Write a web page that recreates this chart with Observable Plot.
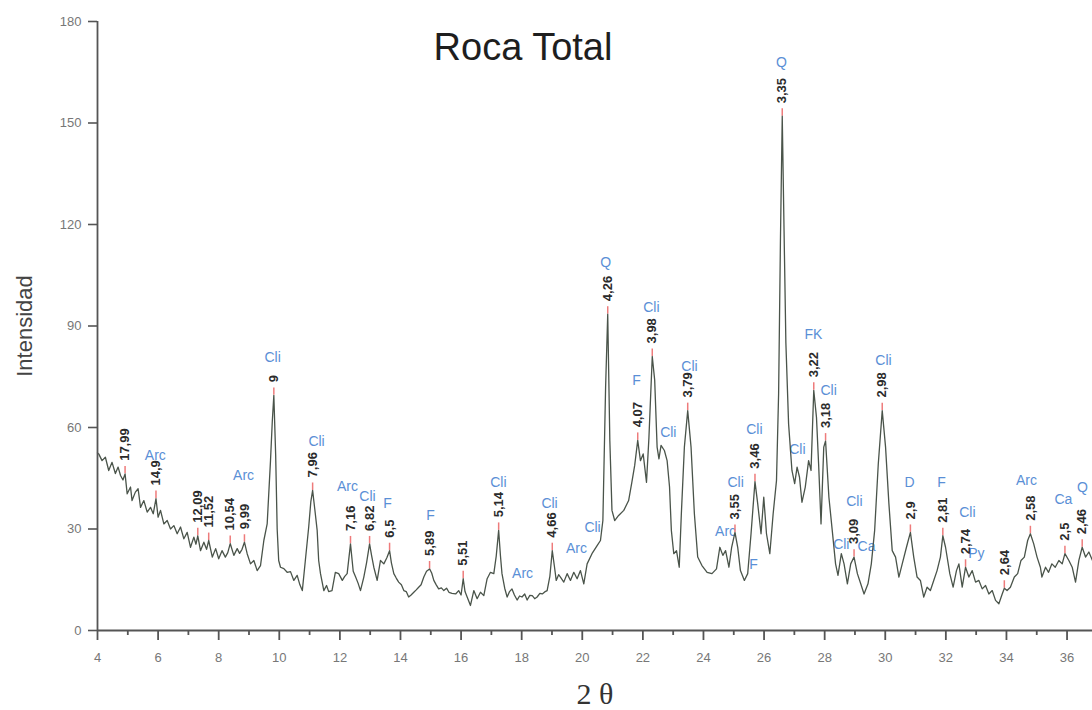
<!DOCTYPE html>
<html><head><meta charset="utf-8">
<script src="https://cdn.jsdelivr.net/npm/d3@7"></script>
<script src="https://cdn.jsdelivr.net/npm/@observablehq/plot@0.6"></script>
<style>body{margin:0;background:#fff}#chart svg{display:block}</style>
</head><body><div id="chart"></div>
<script>
// Diffractogram trace (2θ, intensity)
const twoTheta = [4.00,4.04,4.15,4.26,4.37,4.48,4.59,4.68,4.76,4.84,4.91,4.98,5.09,5.14,5.25,5.34,5.42,5.53,5.64,5.75,5.84,5.93,6.00,6.08,6.19,6.30,6.41,6.52,6.63,6.74,6.85,6.96,7.07,7.18,7.25,7.31,7.40,7.51,7.60,7.67,7.79,7.90,8.00,8.11,8.22,8.30,8.38,8.50,8.61,8.69,8.77,8.85,8.94,9.05,9.16,9.27,9.38,9.49,9.60,9.71,9.77,9.82,9.88,9.93,9.98,10.04,10.15,10.26,10.37,10.48,10.59,10.68,10.76,10.86,10.97,11.04,11.10,11.17,11.25,11.30,11.36,11.47,11.56,11.63,11.74,11.85,11.96,12.08,12.16,12.24,12.35,12.44,12.52,12.60,12.68,12.79,12.88,12.98,13.05,13.12,13.23,13.34,13.45,13.55,13.64,13.70,13.78,13.86,13.94,14.03,14.11,14.19,14.27,14.35,14.44,14.52,14.60,14.68,14.77,14.86,14.96,15.03,15.10,15.18,15.26,15.35,15.43,15.52,15.60,15.70,15.82,15.92,16.00,16.07,16.13,16.20,16.31,16.42,16.53,16.64,16.75,16.86,16.97,17.08,17.16,17.24,17.30,17.35,17.44,17.52,17.60,17.68,17.76,17.85,17.93,18.01,18.10,18.18,18.27,18.35,18.43,18.51,18.60,18.68,18.76,18.84,18.93,19.01,19.08,19.14,19.22,19.28,19.39,19.50,19.61,19.72,19.83,19.94,20.05,20.16,20.32,20.49,20.60,20.68,20.77,20.84,20.91,20.98,21.07,21.20,21.37,21.53,21.64,21.73,21.83,21.92,22.01,22.12,22.20,22.31,22.39,22.47,22.53,22.60,22.71,22.80,22.88,22.94,23.02,23.11,23.20,23.27,23.37,23.48,23.59,23.70,23.81,23.95,24.12,24.28,24.43,24.54,24.64,24.73,24.84,24.93,25.04,25.13,25.22,25.35,25.46,25.57,25.70,25.79,25.90,25.99,26.08,26.19,26.30,26.41,26.48,26.54,26.60,26.66,26.72,26.81,26.92,27.01,27.09,27.17,27.25,27.36,27.47,27.55,27.64,27.73,27.80,27.88,27.97,28.03,28.14,28.25,28.36,28.44,28.55,28.64,28.75,28.86,28.97,29.08,29.19,29.30,29.43,29.54,29.65,29.77,29.90,30.01,30.12,30.23,30.34,30.45,30.56,30.70,30.83,30.94,31.05,31.16,31.27,31.38,31.49,31.60,31.71,31.82,31.90,31.99,32.13,32.24,32.35,32.43,32.54,32.65,32.76,32.87,32.98,33.09,33.20,33.31,33.42,33.53,33.64,33.75,33.86,33.93,34.02,34.13,34.26,34.37,34.48,34.59,34.70,34.79,34.90,35.01,35.12,35.17,35.29,35.39,35.50,35.61,35.73,35.84,35.93,36.06,36.17,36.28,36.39,36.50,36.61,36.72,36.84];
const intensity = [52.5,52.2,50.2,51.2,47.3,49.7,46.4,48.3,45.8,44.5,46.3,40.4,42.4,38.4,40.9,41.9,36.4,38.4,35.0,36.4,34.5,39.0,33.5,35.5,31.5,32.5,30.0,31.0,28.6,30.6,27.1,29.0,24.6,27.6,25.5,28.0,23.6,26.1,24.0,26.6,21.7,24.2,21.2,23.6,21.7,23.0,25.7,22.2,24.2,22.8,24.0,26.1,22.7,19.7,20.7,17.7,19.2,26.6,31.5,50.2,62,69.5,52,30,20.7,18.7,18.3,17.2,17.4,14.8,16.3,13.5,11.8,20.7,30.5,38,41.4,36,29.6,20.7,16.8,11.8,13.3,11.5,11.8,17.2,16.8,14.8,16.0,16.8,25.6,17.5,15.8,14.0,11.8,15.8,20,25.6,22,18.7,14.8,20.7,19.7,21.5,23.6,20,16.8,15.5,14.3,13.5,11.8,11.5,9.9,10.5,11.3,12.0,12.8,13.5,15.8,17.5,18.2,17,14.8,13.5,12.3,12.6,11.8,12.5,11.3,11.0,10.8,11.8,10.5,15.3,11.5,9.9,7.4,11.8,9.4,11.3,10.3,15.3,17.2,16.8,22,29.6,22,16.8,12.5,9.9,11.5,12.3,10.5,9.0,10.2,9.9,10.8,9.0,10.4,10.3,9.4,9.9,11,10.8,11.4,11.8,16,23.6,19,14.8,16.5,15.8,14.3,16.8,14.8,17.2,15.3,17.7,13.8,19.7,22.7,25.1,26.6,32.5,72,93.5,56,35.5,32.5,34,35.5,38.4,44,48.8,56.2,50.2,52.2,43.8,57,81,74,54.2,50.7,54.7,53.2,50.2,42.4,29.6,22.7,23.6,18.7,34.5,54.2,65,54.2,34.5,21.7,19.2,17.2,16.8,18.2,24.6,22.2,23.6,18.7,24.6,29,24.6,17.7,14.8,16.8,28.6,44,37.5,28.6,39.4,28.6,22.7,34.5,44.3,70,115,152,118,85,61,47.3,43.4,48.3,45.3,37.9,42.4,50.2,47.3,71,63,49.3,31.5,54.2,56,39.4,29.6,19.7,16.3,22.7,19.7,13.8,19.7,21.7,16.8,13.8,10.8,13.8,19.7,29.6,49.3,65,54.2,37.5,23.6,21.7,15.8,19.7,24.6,29,21.7,15.8,14.8,9.9,12.8,11.8,14.8,17.7,21.7,28,24.6,16.8,12.8,17.7,19.7,12.8,18.7,15.8,17.7,14.3,14.8,12.3,13.3,10.8,11.8,8.9,7.9,10.8,12.5,11.8,12.8,15.8,16.8,20.7,21.7,26.6,28.6,25.6,21.7,18.7,15.8,18.7,17.2,19.7,18.7,20.7,19.7,22.7,20.7,18.7,14.3,20.7,24.6,21.7,23.2,20.7];

// Labelled peaks: position (2θ), top intensity, d-spacing label
const peakPos = [4.91,5.93,7.31,7.67,8.38,8.85,9.82,11.10,12.35,12.98,13.64,14.96,16.07,17.24,19.01,20.84,21.83,22.31,23.48,25.04,25.70,26.60,27.64,28.03,28.97,29.90,30.83,31.90,32.65,33.93,34.79,35.93,36.50];
const peakInt = [46.3,39.0,28.0,26.6,25.7,26.1,69.5,41.4,25.6,25.6,23.6,18.2,15.3,29.6,23.6,93.5,56.2,81,65,29,44,152,71,56,21.7,65,29,28,18.7,12.5,28.6,22.7,24.6];
const peakD = ["17,99","14,9","12,09","11,52","10,54","9,99","9","7,96","7,16","6,82","6,5","5,89","5,51","5,14","4,66","4,26","4,07","3,98","3,79","3,55","3,46","3,35","3,22","3,18","3,09","2,98","2,9","2,81","2,74","2,64","2,58","2,5","2,46"];

// Mineral phase labels (text, 2θ, intensity where the label sits)
const phaseText = ["Arc","Arc","Cli","Cli","Arc","Cli","F","F","Cli","Arc","Cli","Arc","Cli","Q","F","Cli","Cli","Cli","Arc","Cli","F","Cli","Q","Cli","FK","Cli","Cli","Cli","Ca","Cli","D","F","Cli","Py","Arc","Ca","Q"];
const phaseX = [5.91,8.82,9.78,11.23,12.25,12.91,13.57,14.99,17.23,18.03,18.92,19.81,20.34,20.77,21.79,22.28,22.84,23.54,24.73,25.06,25.65,25.68,26.57,27.10,27.63,28.13,28.55,28.98,29.38,29.94,30.80,31.86,32.71,33.01,34.66,35.88,36.51];
const phaseY = [51.7,45.8,80.7,55.9,42.6,39.6,37.5,34.0,43.7,16.8,37.5,24.2,30.4,108.8,73.9,95.5,58.5,78.0,29.3,43.7,19.5,59.4,167.9,53.5,87.5,70.9,25.4,38.1,24.8,79.8,43.7,43.7,34.9,22.8,44.3,38.7,42.3];

const yTicks = [0,30,60,90,120,150,180];
const xMajor = [4,6,8,10,12,14,16,18,20,22,24,26,28,30,32,34,36];
const xMinor = [5,7,9,11,13,15,17,19,21,23,25,27,29,31,33,35];
const titleText = "Roca Total";
const yLabel = "Intensidad";
const xLabel = "2 θ";

const trace = twoTheta.map((x, i) => ({x, y: intensity[i]}));
const peaks = peakPos.map((x, i) => ({x, y: peakInt[i], d: peakD[i]}));
const phases = phaseText.map((t, i) => ({t, x: phaseX[i], y: phaseY[i]}));

const font = "'Liberation Sans', Arial, Helvetica, sans-serif";

const chart = Plot.plot({
  width: 1092,
  height: 710,
  marginLeft: 97,
  marginRight: 0,
  marginTop: 21,
  marginBottom: 80,
  style: {fontFamily: font, background: "#fff"},
  x: {domain: [4, 36.84]},
  y: {domain: [0, 180]},
  marks: [
    // phase labels (drawn under the trace)
    Plot.text(phases, {x: "x", y: "y", text: "t", fill: "#5a8fd6", fontSize: 14, lineAnchor: "middle"}),
    // red peak markers
    Plot.ruleX(peaks, {x: "x", y1: "y", y2: d => d.y + 2.2, stroke: "#ee7b7b", strokeWidth: 1.5}),
    // trace
    Plot.line(trace, {x: "x", y: "y", stroke: "#4a544a", strokeWidth: 1.3, curve: "linear"}),
    // d-spacing labels
    Plot.text(peaks, {x: "x", y: "y", text: "d", rotate: -90, textAnchor: "start", lineAnchor: "middle", dy: -13, fontSize: 13, fontWeight: "bold", fill: "#2b2b2b"}),
    // axes
    Plot.axisY({ticks: yTicks, tickSize: 9, tickPadding: 7, fontSize: 13, stroke: "#555", strokeWidth: 1.6, fill: "#777", label: null}),
    Plot.axisX({ticks: xMajor, tickSize: 10, tickPadding: 12, fontSize: 13, stroke: "#555", strokeWidth: 1.8, fill: "#777", label: null}),
    Plot.axisX({ticks: xMinor, tickSize: 5, tickFormat: () => "", stroke: "#555", strokeWidth: 1.8, label: null}),
    Plot.ruleY([0], {stroke: "#555", strokeWidth: 1.8}),
    Plot.ruleX([4], {stroke: "#555", strokeWidth: 1.8}),
    // titles
    Plot.text([titleText], {text: d => d, frameAnchor: "top", dx: -72, dy: 26, fontSize: 38, fill: "#1e1e1e", textAnchor: "middle", lineAnchor: "middle"}),
    Plot.text([yLabel], {text: d => d, frameAnchor: "left", dx: -73, rotate: -90, fontSize: 22, fill: "#444", textAnchor: "middle", lineAnchor: "middle"}),
    Plot.text([xLabel], {text: d => d, frameAnchor: "bottom", dy: 64, fontSize: 30, fill: "#333", textAnchor: "middle", lineAnchor: "middle", fontFamily: "'Liberation Serif', 'DejaVu Serif', serif"})
  ]
});
document.getElementById("chart").appendChild(chart);
</script>
</body></html>
